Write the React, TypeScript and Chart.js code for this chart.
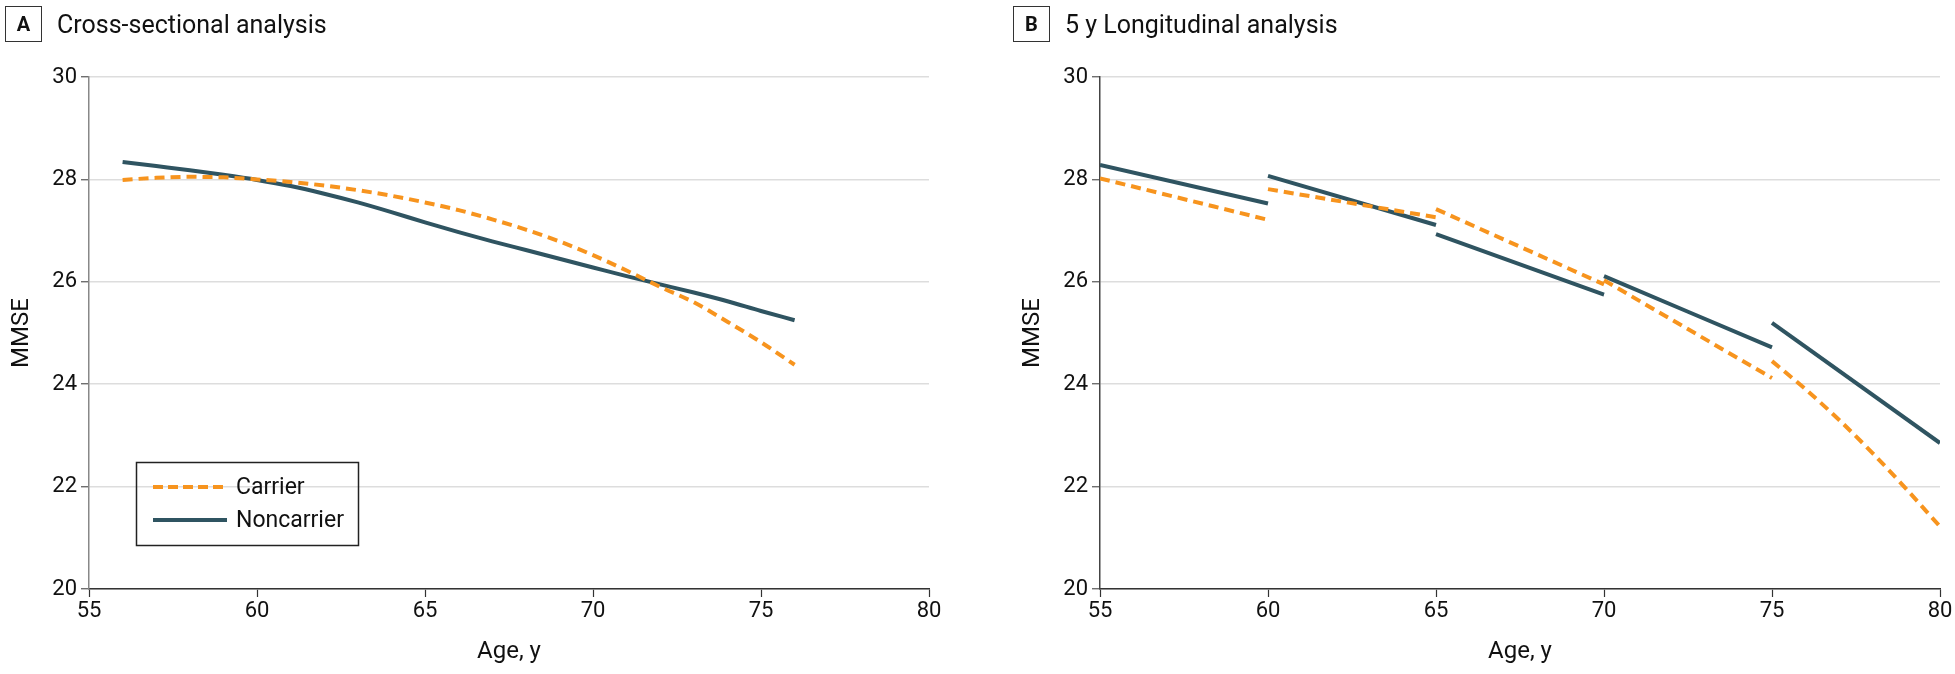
import React, { useEffect, useRef } from "react";
import { Chart, registerables } from "chart.js";

Chart.register(...registerables);

// ---------- data ----------
const panelLetters = ["A", "B"];
const panelTitles = ["Cross-sectional analysis", "5 y Longitudinal analysis"];
const seriesLabels = ["Carrier", "Noncarrier"];
const xAxisTitle = "Age, y";
const yAxisTitle = "MMSE";
const xTicks = [55, 60, 65, 70, 75, 80];
const yTicks = [20, 22, 24, 26, 28, 30];

// Panel A: cross-sectional
const crossAges = [56, 57, 58, 59, 60, 61, 62, 63, 64, 65, 66, 67, 68, 69, 70, 71, 72, 73, 74, 75, 76];
const crossCarrier = [27.99, 28.03, 28.05, 28.04, 28.0, 27.95, 27.88, 27.79, 27.68, 27.55, 27.4, 27.22, 27.02, 26.79, 26.52, 26.22, 25.9, 25.6, 25.22, 24.82, 24.38];
const crossNoncarrier = [28.34, 28.26, 28.18, 28.09, 27.99, 27.87, 27.72, 27.55, 27.36, 27.16, 26.97, 26.79, 26.62, 26.45, 26.28, 26.11, 25.95, 25.79, 25.62, 25.43, 25.25];

// Panel B: 5 y longitudinal, one segment per 5-year band
const longNoncarrierAges = [[55, 60], [60, 65], [65, 70], [70, 75], [75, 80]];
const longNoncarrier = [[28.28, 27.53], [28.07, 27.11], [26.93, 25.75], [26.11, 24.72], [25.2, 22.85]];
const longCarrierAges = [[55, 60], [60, 65], [65, 70], [70, 75], [75, 76, 77, 78, 79, 80]];
const longCarrier = [[28.02, 27.21], [27.81, 27.26], [27.42, 25.95], [26.03, 24.12], [24.45, 23.9, 23.3, 22.65, 21.95, 21.22]];

// ---------- style ----------
const ORANGE = "#F7941E";
const NAVY = "#2F5461";
const FONT = "Roboto, 'Liberation Sans', Arial, sans-serif";
const H = 674;

const toPoints = (xs: number[], ys: number[]) => xs.map((x, i) => ({ x, y: ys[i] }));

function carrierDs(data: any[]) {
  return {
    label: seriesLabels[0],
    data,
    borderColor: ORANGE,
    borderWidth: 4,
    borderDash: [10, 6],
    borderCapStyle: "butt",
    pointRadius: 0,
    fill: false,
    cubicInterpolationMode: "monotone",
  };
}
function noncarrierDs(data: any[]) {
  return {
    label: seriesLabels[1],
    data,
    borderColor: NAVY,
    borderWidth: 4,
    borderCapStyle: "butt",
    pointRadius: 0,
    fill: false,
    cubicInterpolationMode: "monotone",
  };
}

function makeOptions(padLeft: number, padRight: number, yBorder: string) {
  return {
    responsive: false,
    animation: false,
    events: [],
    layout: { padding: { left: padLeft, right: padRight, top: 77, bottom: 0 } },
    plugins: { legend: { display: false }, tooltip: { enabled: false } },
    scales: {
      x: {
        type: "linear",
        min: 55,
        max: 80,
        afterBuildTicks: (s: any) => {
          s.ticks = xTicks.map((v) => ({ value: v }));
        },
        afterFit: (s: any) => {
          s.height = 85;
        },
        ticks: { font: { size: 22, family: FONT }, color: "#111", padding: 1, maxRotation: 0, autoSkip: false },
        grid: { display: true, drawOnChartArea: false, drawTicks: true, tickLength: 8, tickColor: "#333", tickWidth: 1.2 },
        border: { display: true, color: "#333", width: 1.5 },
        title: { display: true, text: xAxisTitle, color: "#111", font: { size: 24, family: FONT }, padding: { top: 0, bottom: 8 } },
      },
      y: {
        type: "linear",
        min: 20,
        max: 30,
        afterBuildTicks: (s: any) => {
          s.ticks = yTicks.map((v) => ({ value: v }));
        },
        afterFit: (s: any) => {
          s.width = 89;
        },
        ticks: { font: { size: 22, family: FONT }, color: "#111", padding: 4 },
        grid: { color: "#dddddd", lineWidth: 1.5, drawTicks: true, tickLength: 8, tickColor: "#555", tickWidth: 1.2 },
        border: { display: true, color: yBorder, width: 1.5 },
        title: { display: true, text: yAxisTitle, color: "#111", font: { size: 24, family: FONT }, padding: { top: 8, bottom: 0 } },
      },
    },
  };
}

const legendPlugin = {
  id: "insetLegend",
  afterDraw(chart: any) {
    const ctx = chart.ctx;
    ctx.save();
    ctx.strokeStyle = "#222";
    ctx.lineWidth = 1.5;
    ctx.setLineDash([]);
    ctx.strokeRect(136.5, 462.5, 222, 83);
    const rows = [
      { y: 487, color: ORANGE, dash: [10, 5], label: seriesLabels[0] },
      { y: 520, color: NAVY, dash: [], label: seriesLabels[1] },
    ];
    ctx.font = `23px ${FONT}`;
    ctx.textBaseline = "middle";
    rows.forEach((r) => {
      ctx.strokeStyle = r.color;
      ctx.lineWidth = 4;
      ctx.setLineDash(r.dash);
      ctx.beginPath();
      ctx.moveTo(153, r.y);
      ctx.lineTo(227, r.y);
      ctx.stroke();
      ctx.fillStyle = "#111";
      ctx.fillText(r.label, 236, r.y + 1);
    });
    ctx.restore();
  },
};

function PanelTitle({ left, letter, title, textLeft }: any) {
  return (
    <>
      <div
        style={{
          position: "absolute",
          left,
          top: 6,
          width: 37,
          height: 36,
          border: "1px solid #333",
          boxSizing: "border-box",
          display: "flex",
          alignItems: "center",
          justifyContent: "center",
          fontFamily: FONT,
          fontWeight: 700,
          fontSize: 20,
          color: "#111",
        }}
      >
        {letter}
      </div>
      <div
        style={{
          position: "absolute",
          left: textLeft,
          top: 10,
          lineHeight: "30px",
          fontFamily: FONT,
          fontSize: 25,
          color: "#111",
          whiteSpace: "nowrap",
        }}
      >
        {title}
      </div>
    </>
  );
}

export default function App() {
  const refA = useRef<HTMLCanvasElement>(null);
  const refB = useRef<HTMLCanvasElement>(null);

  useEffect(() => {
    Chart.defaults.font.family = FONT;
    const a = new Chart(refA.current as HTMLCanvasElement, {
      type: "line",
      data: {
        datasets: [
          carrierDs(toPoints(crossAges, crossCarrier)),
          noncarrierDs(toPoints(crossAges, crossNoncarrier)),
        ],
      },
      options: makeOptions(0, 31, "#888") as any,
      plugins: [legendPlugin],
    } as any);

    const dsB: any[] = [];
    longCarrier.forEach((ys, i) => dsB.push(carrierDs(toPoints(longCarrierAges[i], ys))));
    longNoncarrier.forEach((ys, i) => dsB.push(noncarrierDs(toPoints(longNoncarrierAges[i], ys))));

    const b = new Chart(refB.current as HTMLCanvasElement, {
      type: "line",
      data: { datasets: dsB },
      options: makeOptions(51, 15, "#444") as any,
    } as any);

    return () => {
      a.destroy();
      b.destroy();
    };
  }, []);

  return (
    <div style={{ position: "absolute", left: 0, top: 0, width: 1955, height: H, background: "#fff", overflow: "hidden" }}>
      <canvas ref={refA} width={960} height={H} style={{ position: "absolute", left: 0, top: 0, width: 960, height: H }} />
      <canvas ref={refB} width={995} height={H} style={{ position: "absolute", left: 960, top: 0, width: 995, height: H }} />
      <PanelTitle left={5} letter={panelLetters[0]} title={panelTitles[0]} textLeft={57} />
      <PanelTitle left={1013} letter={panelLetters[1]} title={panelTitles[1]} textLeft={1065} />
    </div>
  );
}
